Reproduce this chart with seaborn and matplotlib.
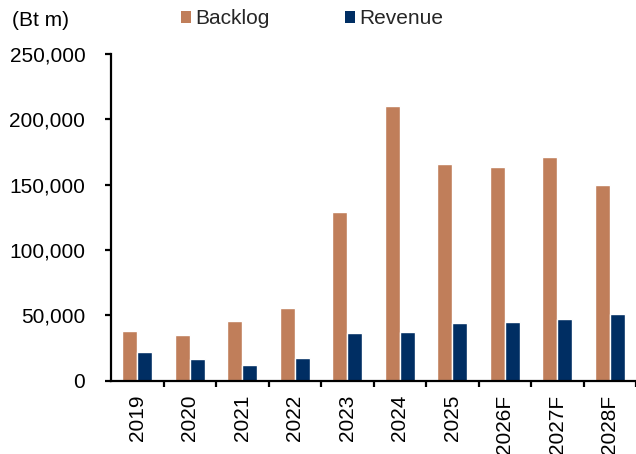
import matplotlib
matplotlib.use("Agg")
import matplotlib.pyplot as plt
import seaborn as sns
import pandas as pd
from matplotlib.ticker import FuncFormatter, FixedLocator
from matplotlib.patches import Patch

years = ["2019", "2020", "2021", "2022", "2023", "2024", "2025", "2026F", "2027F", "2028F"]
backlog = [38100, 35000, 45200, 55400, 128800, 210100, 165900, 163100, 170800, 149500]
revenue = [22200, 16100, 11500, 17400, 36000, 36800, 43700, 45000, 46800, 50600]
series_names = ["Backlog", "Revenue"]
colors = ["#C07E5A", "#002E63"]

df = pd.DataFrame({
    "year": years * 2,
    "value": backlog + revenue,
    "series": [series_names[0]] * len(years) + [series_names[1]] * len(years),
})

sns.set_theme(style="white")
plt.rcParams["font.family"] = ["Liberation Sans", "DejaVu Sans"]

FS = 15
fig = plt.figure(figsize=(6.36, 4.54), dpi=100)
ax = fig.add_axes([111 / 636, 1 - 380.5 / 454, 1 - 111 / 636, (380.5 - 54) / 454])

sns.barplot(data=df, x="year", y="value", hue="series", palette=colors,
            width=0.58, gap=0, ax=ax, legend=False, saturation=1, order=years)

ax.set_xlim(-0.5, len(years) - 0.5)
ax.set_ylim(0, 250000)
ax.set_yticks(range(0, 250001, 50000))
ax.yaxis.set_major_formatter(FuncFormatter(lambda v, p: f"{int(v):,}"))
ax.set_xlabel("")
ax.set_ylabel("")

for s in ["top", "right"]:
    ax.spines[s].set_visible(False)
for s in ["left", "bottom"]:
    ax.spines[s].set_color("black")
    ax.spines[s].set_linewidth(1.6)

ax.tick_params(axis="y", which="major", direction="out", length=4.5, width=1.6,
               color="black", labelsize=FS, labelcolor="black", pad=14, left=True)
ax.tick_params(axis="x", which="major", length=0, labelsize=FS, labelcolor="black",
               pad=10, labelrotation=90)
ax.xaxis.set_minor_locator(FixedLocator([i + 0.5 for i in range(len(years))]))
ax.tick_params(axis="x", which="minor", direction="out", length=4.5, width=1.6,
               color="black", bottom=True)
for lbl in ax.get_xticklabels():
    lbl.set_verticalalignment("top")

handles = [Patch(facecolor=c, edgecolor="none") for c in colors]
fig.legend(handles, series_names, loc="center left", bbox_to_anchor=(181 / 636, 1 - 19 / 454),
           ncol=2, frameon=False, fontsize=FS, handlelength=0.5, handleheight=0.5,
           handletextpad=0.2, columnspacing=3.6, borderpad=0, borderaxespad=0)

fig.text(12 / 636, 1 - 20 / 454, "(Bt m)", fontsize=FS, ha="left", va="center", color="black")

fig.savefig("out.png", dpi=100)
